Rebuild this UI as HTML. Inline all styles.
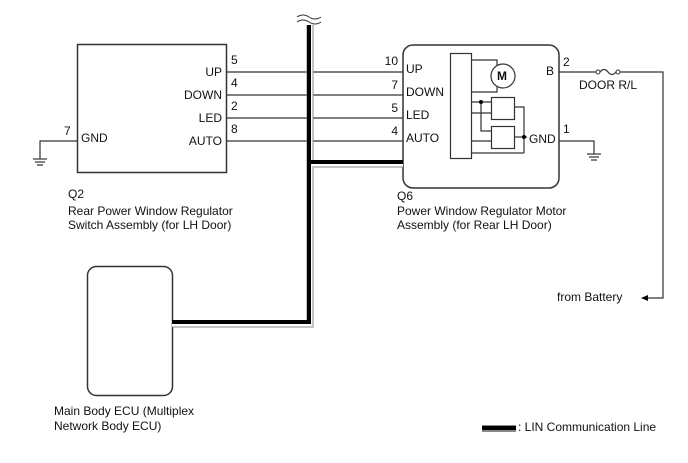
<!DOCTYPE html>
<html><head><style>body{margin:0;background:#fff}svg{display:block}text{font-family:"Liberation Sans",sans-serif;font-size:12px;fill:#111}</style></head><body>
<svg width="688" height="463" viewBox="0 0 688 463">
<g fill="none" stroke="#333" stroke-width="1.2">
<rect x="77.5" y="44.5" width="149" height="128" stroke-width="1.5"/>
<line x1="227" y1="72" x2="403" y2="72"/>
<line x1="227" y1="95" x2="403" y2="95"/>
<line x1="227" y1="118" x2="403" y2="118"/>
<line x1="227" y1="141" x2="403" y2="141"/>
<polyline points="77,141 40,141 40,159"/>
<line x1="33" y1="159" x2="47" y2="159"/><line x1="35" y1="162" x2="45" y2="162"/><line x1="37" y1="165" x2="43" y2="165"/>
<rect x="403" y="45" width="156" height="143" rx="10" stroke-width="1.5"/>
<rect x="450.5" y="53.5" width="21" height="105"/>
<polyline points="471,60 497,60 497,65"/>
<polyline points="471,92 497,92 497,87"/>
<circle cx="503" cy="76" r="12"/>
<rect x="491.5" y="97.5" width="23" height="22"/>
<rect x="491.5" y="126.5" width="23" height="22"/>
<line x1="471" y1="102" x2="491" y2="102"/>
<line x1="471" y1="113" x2="491" y2="113"/>
<line x1="471" y1="141" x2="491" y2="141"/>
<line x1="471" y1="153" x2="524" y2="153"/>
<polyline points="481,102 481,131 491,131"/>
<polyline points="514,107 524,107 524,153"/>
<line x1="514" y1="137" x2="527" y2="137"/>
<polyline points="559,72 597,72"/>
<path d="M600,72 q4,-5 8,0 t8,0"/>
<polyline points="619,72 663,72 663,298 647,298"/>
<polyline points="559,141 594,141 594,154"/>
<line x1="587" y1="154" x2="601" y2="154"/><line x1="589" y1="157" x2="599" y2="157"/><line x1="591" y1="160" x2="597" y2="160"/>
<rect x="87.5" y="266.5" width="85" height="129" rx="9" stroke-width="1.5"/>
<path d="M297,17 q6,-4 12,0 t12,0" stroke-width="1"/>
<path d="M297,22 q6,-4 12,0 t12,0" stroke-width="1"/>
</g>
<circle cx="598" cy="72" r="2" fill="#fff" stroke="#333"/><circle cx="618" cy="72" r="2" fill="#fff" stroke="#333"/>
<circle cx="481" cy="102" r="2" fill="#000"/><circle cx="524" cy="137" r="2" fill="#000"/>
<polygon points="641,298 648,295 648,301" fill="#000"/>
<text x="497" y="80" style="font-weight:bold;font-size:12px">M</text>
<g fill="none" stroke-linejoin="miter">
<polyline points="310,25 310,324 172,324" stroke="#888" stroke-width="7"/>
<polyline points="310,164 403,164" stroke="#888" stroke-width="7"/>
<polyline points="310,25 310,324 172,324" stroke="#fff" stroke-width="5"/>
<polyline points="310,164 403,164" stroke="#fff" stroke-width="5"/>
<polyline points="309,25 309,322 172,322" stroke="#000" stroke-width="4"/>
<polyline points="309,162 403,162" stroke="#000" stroke-width="4"/>
</g>
<rect x="482" y="425" width="34" height="7" fill="#888"/><rect x="482" y="426" width="34" height="4" fill="#000"/>
<text x="231" y="64">5</text><text x="231" y="87">4</text><text x="231" y="110">2</text><text x="231" y="133">8</text>
<text x="222" y="76" text-anchor="end">UP</text>
<text x="222" y="99" text-anchor="end">DOWN</text>
<text x="222" y="122" text-anchor="end">LED</text>
<text x="222" y="145" text-anchor="end">AUTO</text>
<text x="64" y="135">7</text><text x="81" y="142">GND</text>
<text x="68" y="198">Q2</text>
<text x="68" y="215">Rear Power Window Regulator</text>
<text x="68" y="229">Switch Assembly (for LH Door)</text>
<text x="398" y="65" text-anchor="end">10</text><text x="398" y="89" text-anchor="end">7</text><text x="398" y="112" text-anchor="end">5</text><text x="398" y="135" text-anchor="end">4</text>
<text x="406" y="73">UP</text><text x="406" y="96">DOWN</text><text x="406" y="119">LED</text><text x="406" y="142">AUTO</text>
<text x="529" y="143">GND</text><text x="546" y="75">B</text>
<text x="563" y="66">2</text><text x="563" y="133">1</text>
<text x="579" y="89">DOOR R/L</text>
<text x="397" y="200">Q6</text>
<text x="397" y="215">Power Window Regulator Motor</text>
<text x="397" y="229">Assembly (for Rear LH Door)</text>
<text x="557" y="301">from Battery</text>
<text x="54" y="415">Main Body ECU (Multiplex</text>
<text x="54" y="430">Network Body ECU)</text>
<text x="518" y="431">: LIN Communication Line</text>
</svg>
</body></html>
